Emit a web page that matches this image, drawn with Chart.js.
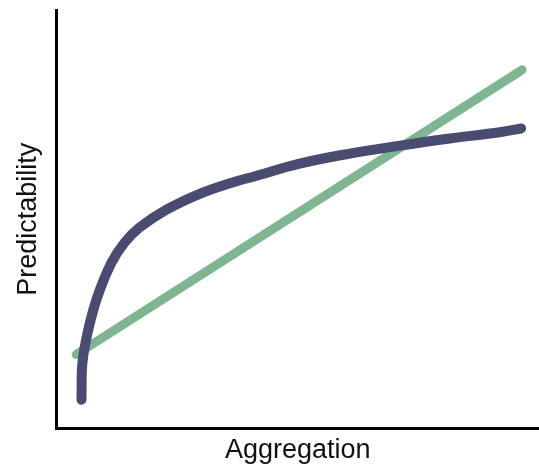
<!DOCTYPE html>
<html>
<head>
<meta charset="utf-8">
<script src="https://cdn.jsdelivr.net/npm/chart.js@4.4.1/dist/chart.umd.min.js"></script>
<style>
  html, body { margin: 0; padding: 0; background: #fff; }
  #wrap { width: 539px; height: 469px; position: relative; }
</style>
</head>
<body>
<div id="wrap"><canvas id="chart"></canvas></div>
<script>
// values (axis runs 0..100 both ways, no ticks shown)
const curveX = [5.2, 5.4, 6.6, 8.5, 11.4, 14.1, 17.2, 22.8, 29.7, 36.5, 41.5, 50.4, 60.8, 71.2, 81.5, 91.9, 96.3];
const curveY = [6.9, 15.8, 23.6, 31.5, 39.6, 44.4, 48.0, 52.3, 56.1, 58.8, 60.4, 63.3, 65.7, 67.6, 69.3, 70.8, 71.7];
const lineX = [4.1, 96.5];
const lineY = [17.7, 85.7];

const xTitle = 'Aggregation';
const yTitle = 'Predictability';

const toPoints = (xs, ys) => xs.map((x, i) => ({ x: x, y: ys[i] }));

const titleFont = { family: 'Liberation Sans, Arial, sans-serif', size: 27 };

new Chart(document.getElementById('chart'), {
    type: 'scatter',
    data: {
        datasets: [
            {
                data: toPoints(curveX, curveY),
                showLine: true,
                borderColor: '#4A4B70',
                borderWidth: 10,
                borderCapStyle: 'round',
                borderJoinStyle: 'round',
                tension: 0.4,
                pointRadius: 0,
            },
            {
                data: toPoints(lineX, lineY),
                showLine: true,
                borderColor: '#7EB692',
                borderWidth: 9,
                borderCapStyle: 'round',
                pointRadius: 0,
            }
        ]
    },
    options: {
        responsive: true,
        maintainAspectRatio: false,
        animation: false,
        layout: { padding: { top: 10, right: 0, bottom: 0, left: 0 } },
        plugins: { legend: { display: false }, tooltip: { enabled: false } },
        scales: {
            x: {
                type: 'linear', min: 0, max: 100,
                grid: { display: false, drawTicks: false },
                ticks: { display: false },
                border: { display: true, color: '#000', width: 3 },
                title: {
                    display: true, text: xTitle, color: '#111',
                    font: titleFont,
                    padding: { top: 6, bottom: 2 }
                }
            },
            y: {
                type: 'linear', min: 0, max: 100,
                grid: { display: false, drawTicks: false },
                ticks: { display: false },
                border: { display: true, color: '#000', width: 3 },
                title: {
                    display: true, text: yTitle, color: '#111',
                    font: titleFont,
                    padding: { top: 12, bottom: 12 }
                }
            }
        }
    }
});
</script>
</body>
</html>
